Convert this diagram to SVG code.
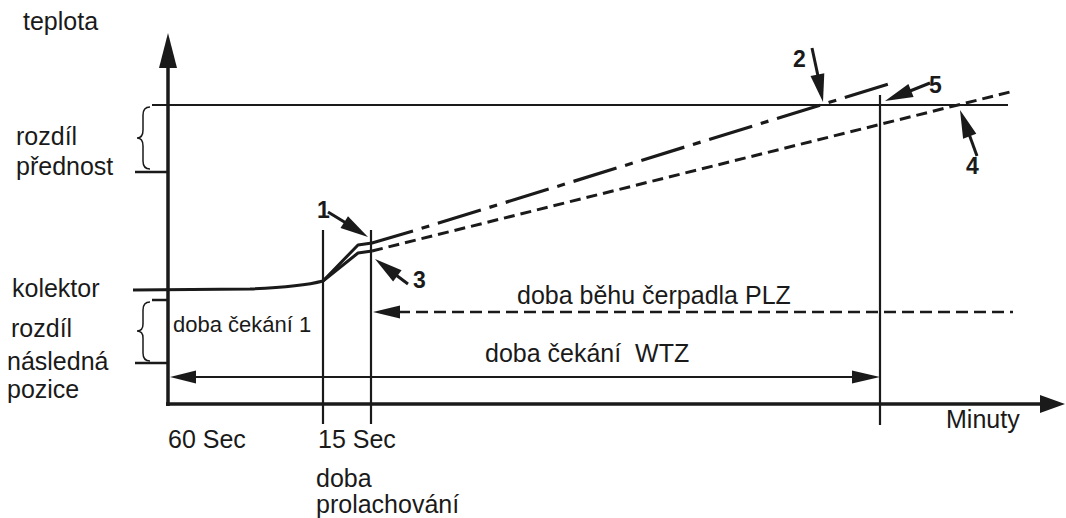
<svg xmlns="http://www.w3.org/2000/svg" width="1066" height="518" viewBox="0 0 1066 518">
<style>
text{font-family:"Liberation Sans",Arial,sans-serif;fill:#1a1a1a;font-size:25px}
.small{font-size:22px}
.num{font-weight:bold;font-size:23px}
.ln{stroke:#1a1a1a;fill:none;stroke-width:2.2}
.axis{stroke:#1a1a1a;fill:none;stroke-width:3.5}
.curve{stroke:#1a1a1a;fill:none;stroke-width:3;stroke-linejoin:round}
.dash{stroke:#1a1a1a;fill:none;stroke-width:3;stroke-dasharray:11 6}
.dashdot{stroke:#1a1a1a;fill:none;stroke-width:3.2;stroke-dasharray:45 9 8 9;stroke-dashoffset:45}
.plz{stroke:#1a1a1a;fill:none;stroke-width:2.5;stroke-dasharray:12 6}
.ptr{stroke:#1a1a1a;fill:none;stroke-width:3}
.head{fill:#1a1a1a}
</style>
<rect width="1066" height="518" fill="#fff"/>

<g id="axes">
<line class="axis" x1="168" y1="406" x2="168" y2="62"/>
<polygon class="head" points="168,33 159,68 177,68"/>
<line class="axis" x1="166" y1="404" x2="1045" y2="404"/>
<polygon class="head" points="1065,404 1040,395 1040,413"/>
<text x="23" y="30">teplota</text>
<text x="946" y="428">Minuty</text>
</g>

<g id="limit-top">
<line class="ln" x1="152" y1="105" x2="1008" y2="105"/>
<line class="ln" x1="135" y1="172" x2="168" y2="172" style="stroke-width:2.5"/>
<path class="ln" d="M150,107 Q143,107 143,115 L143,130 Q143,138 137,138 Q143,138 143,146 L143,161 Q143,169 150,169" style="stroke-width:1.5"/>
<text x="16" y="145">rozdíl</text>
<text x="16" y="175">přednost</text>
</g>

<g id="limit-bottom">
<line class="ln" x1="152" y1="300" x2="168" y2="300" style="stroke-width:2.5"/>
<line class="ln" x1="135" y1="363" x2="168" y2="363" style="stroke-width:2.5"/>
<path class="ln" d="M150,302 Q143,302 143,310 L143,324 Q143,331 137,331 Q143,331 143,338 L143,353 Q143,361 150,361" style="stroke-width:1.5"/>
<text x="12" y="297">kolektor</text>
<text x="11" y="337">rozdíl</text>
<text x="7" y="370">následná</text>
<text x="7" y="398">pozice</text>
</g>

<g id="time-marks">
<line class="ln" x1="323" y1="230" x2="323" y2="424"/>
<line class="ln" x1="371" y1="230" x2="371" y2="424"/>
<line class="ln" x1="880" y1="95" x2="880" y2="425"/>
<text x="168" y="448">60 Sec</text>
<text x="318" y="448">15 Sec</text>
<text x="316" y="487">doba</text>
<text x="316" y="513">prolachování</text>
<text class="small" x="173" y="332">doba čekání 1</text>
</g>

<g id="curves">
<path class="curve" d="M133,290 L250,289 Q300,287 323,281 L358,253 L372,251"/>
<path class="curve" d="M323,281 L358,245 L372,243 L413,231"/>
<path class="dashdot" d="M413,231 L895,82"/>
<path class="dash" d="M372,251 L1010,92"/>
</g>

<g id="connectors">
<line class="plz" x1="398" y1="312" x2="1013" y2="312"/>
<polygon class="head" points="373,312 400,305.5 400,318.5"/>
<line class="ln" x1="193" y1="377" x2="854" y2="377"/>
<polygon class="head" points="170,377 196,370.5 196,383.5"/>
<polygon class="head" points="880,377 852,370.5 852,383.5"/>
<text x="517" y="304">doba běhu čerpadla PLZ</text>
<text x="485" y="362" xml:space="preserve">doba čekání  WTZ</text>
</g>

<g id="pointers">
<line class="ptr" x1="328" y1="212" x2="346" y2="223"/>
<polygon class="head" points="368,237 340.5,228.1 348,216.2"/>
<text class="num" x="317" y="218">1</text>
<line class="ptr" x1="812" y1="48" x2="818" y2="76"/>
<polygon class="head" points="823,102 810.5,76 824.3,73.2"/>
<text class="num" x="793" y="67">2</text>
<line class="ptr" x1="408" y1="284" x2="396" y2="275"/>
<polygon class="head" points="375,259 401.6,270.3 393.1,281.5"/>
<text class="num" x="413" y="288">3</text>
<line class="ptr" x1="977" y1="156" x2="969" y2="134"/>
<polygon class="head" points="960,110 976.3,133.8 963.1,138.7"/>
<text class="num" x="966" y="174">4</text>
<line class="ptr" x1="930" y1="83" x2="910" y2="91"/>
<polygon class="head" points="885,101 908.4,84.1 913.6,97.1"/>
<text class="num" x="929" y="93">5</text>
</g>
</svg>
